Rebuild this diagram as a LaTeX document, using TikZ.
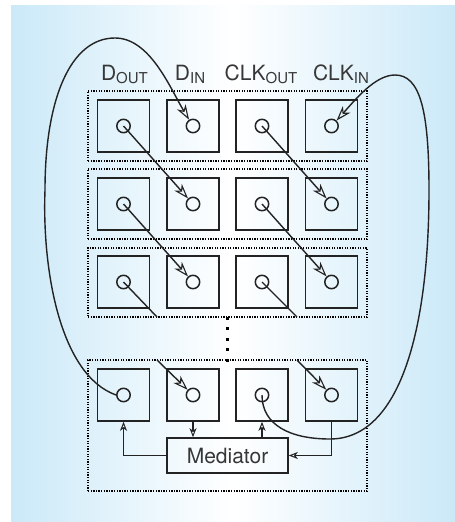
\documentclass[tikz,border=0pt]{standalone}
\usepackage{fontspec}
\setmainfont{TeX Gyre Heros}
\usetikzlibrary{arrows.meta}
\definecolor{bgblue}{RGB}{203,233,248}
\definecolor{ink}{RGB}{35,35,35}
\definecolor{txt}{RGB}{55,55,55}
\newcommand\lowsub[1]{\raisebox{-3.5pt}{\fontsize{15}{15}\selectfont #1}}
\tikzset{
  cell/.style={draw=ink, line width=1.6pt, minimum size=52pt, inner sep=0pt},
  port/.style={circle, draw=ink, line width=1.5pt, minimum size=13.4pt, inner sep=0pt},
  rowbox/.style={draw=black, line width=1.3pt, dash pattern=on 1.3pt off 1.3pt, minimum width=279pt, inner sep=0pt},
  lbl/.style={text=txt, font=\fontsize{21}{21}\selectfont, anchor=base, inner sep=0pt},
  conn/.style={draw=ink, line width=1.4pt},
  bigtip/.style={-{Stealth[open, length=15pt, width=10pt, inset=4.5pt, line width=1.1pt]}},
  smalltip/.style={-{Stealth[open, length=9pt, width=7pt, inset=2.5pt, line width=1pt]}},
  medbox/.style={draw=ink, line width=1.6pt, minimum width=121pt, minimum height=35pt, inner sep=0pt, text=txt, font=\fontsize{21}{21}\selectfont},
  vdots/.style={draw=black, line width=3pt, dash pattern=on 3pt off 7.5pt}
}
\begin{document}
\begin{tikzpicture}[x=1pt,y=-1pt]
\useasboundingbox (0,0) rectangle (455,522);
\shade[left color=bgblue, right color=bgblue, middle color=white] (11,5) rectangle (455,522);

% row boxes
\node[rowbox, minimum height=70pt] (b1) at (227.5,126) {};
\node[rowbox, minimum height=70pt] (b2) at (227.5,204) {};
\node[rowbox, minimum height=69pt] (b3) at (227.5,282.5) {};
\node[rowbox, minimum height=131pt] (b4) at (227.5,425.5) {};
\draw[vdots] (227.5,316.5) -- (227.5,362);

% cells and ports
\foreach \r/\y in {1/126,2/204,3/282,4/395}{
  \foreach \c/\x in {1/123.5,2/193,3/262,4/331.5}{
    \node[cell] (s\r\c) at (\x,\y) {};
    \node[port] (c\r\c) at (\x,\y) {};
  }
}

% labels
\node[lbl] (l1) at (124.5,80) {D\lowsub{OUT}};
\node[lbl] (l2) at (190,80) {D\lowsub{IN}};
\node[lbl] (l3) at (261,80) {CLK\lowsub{OUT}};
\node[lbl] (l4) at (341,80) {CLK\lowsub{IN}};

% diagonal connections
\foreach \a/\b in {1/2,2/3}{
  \draw[conn,bigtip] (c\a1.center) -- (c\b2);
  \draw[conn,bigtip] (c\a3.center) -- (c\b4);
}
\coordinate (e3a) at (157,317);
\coordinate (e3b) at (297,317);
\coordinate (e4a) at (157,360);
\coordinate (e4b) at (297,360);
\draw[conn] (c31.center) -- (e3a);
\draw[conn] (c33.center) -- (e3b);
\draw[conn,bigtip] (e4a) -- (c42);
\draw[conn,bigtip] (e4b) -- (c44);

% big loops
\draw[conn,bigtip] (c41.west) .. controls (60,375) and (42,270) .. (45,190)
  .. controls (45,100) and (70,38) .. (115,38)
  .. controls (150,38) and (170,88) .. (c12.122);
\draw[conn,bigtip] (c43.center) .. controls (262,425) and (290,439) .. (330,439)
  .. controls (400,439) and (429,330) .. (429,190)
  .. controls (429,110) and (420,75) .. (395,75)
  .. controls (375,75) and (355,100) .. (c14.47);

% mediator
\node[medbox] (med) at (227.5,455.5) {Mediator};
\draw[conn,smalltip] (med.west) -| (s41.south);
\draw[conn,smalltip] (s42.south) -- (s42.south |- med.north);
\draw[conn,smalltip] (s43.south |- med.north) -- (s43.south);
\draw[conn,smalltip] (s44.south) |- (med.east);
\end{tikzpicture}
\end{document}
